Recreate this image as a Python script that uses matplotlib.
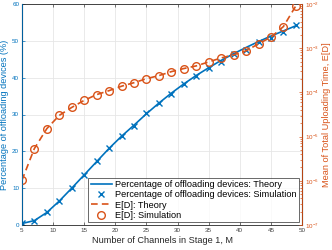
import numpy as np
import matplotlib
matplotlib.use("Agg")
import matplotlib.pyplot as plt

plt.rcParams['font.family'] = ['Liberation Sans', 'DejaVu Sans']
plt.rcParams['mathtext.fontset'] = 'custom'
plt.rcParams['mathtext.rm'] = 'Liberation Sans'

# number of channels M
m = [5, 7, 9, 11, 13, 15, 17, 19, 21, 23, 25, 27, 29, 31, 33, 35, 37, 39, 41, 43, 45, 47, 49]

# percentage of offloading devices (%)
pct_theory = [0.4, 1.2, 3.4, 6.5, 10.0, 13.6, 17.2, 20.8, 24.1, 27.1, 30.2, 33.1, 35.8, 38.3, 40.6, 42.7, 44.7, 46.5, 48.2, 49.8, 51.3, 52.7, 54.1]
pct_sim = [0.5, 1.1, 3.5, 6.5, 10.0, 13.5, 17.3, 20.8, 24.1, 27.0, 30.3, 33.2, 35.7, 38.4, 40.5, 42.7, 44.3, 46.5, 47.6, 49.7, 50.8, 52.4, 54.3]

# mean of total uploading time E[D] (log10)
ed_log = [-5.99, -5.27, -4.82, -4.52, -4.34, -4.18, -4.05, -3.96, -3.86, -3.78, -3.69, -3.62, -3.53, -3.46, -3.40, -3.31, -3.22, -3.15, -3.06, -2.90, -2.75, -2.51, -2.04]
ed = [10 ** v for v in ed_log]

blue = '#0072BD'
orange = '#D95319'

fig = plt.figure(figsize=(3.32, 2.5), dpi=100)
ax = fig.add_axes([0.066, 0.1, 0.844, 0.884])
ax2 = ax.twinx()

l1, = ax.plot(m, pct_theory, color=blue, lw=1.2, label='Percentage of offloading devices: Theory')
l2, = ax.plot(m, pct_sim, ls='none', marker='x', ms=4, mew=1.0, color=blue,
              label='Percentage of offloading devices: Simulation')
l3, = ax2.plot(m, ed, color=orange, ls=(0, (4, 2.5)), lw=1.2, label='E[D]: Theory')
l4, = ax2.plot(m, ed, ls='none', marker='o', ms=5.5, mfc='none', mew=1.0, color=orange,
               label='E[D]: Simulation')

ax.set_xlim(5, 50)
ax.set_ylim(0, 60)
ax.set_xticks(range(5, 51, 5))
ax.set_yticks(range(0, 61, 10))
ax2.set_yscale('log')
ax2.set_ylim(1e-7, 1e-2)

ax.grid(True, color='#e6e6e6', lw=0.6)
ax.set_axisbelow(True)

ax.tick_params(axis='x', direction='in', labelsize=4.5, colors='#404040', top=True, length=2.5, width=0.5, pad=2.5)
ax.tick_params(axis='y', direction='in', labelsize=4.5, colors=blue, length=2.5, width=0.5, pad=2)
ax2.tick_params(axis='y', which='both', direction='in', labelsize=4.5, colors=orange, width=0.5, pad=2)
ax2.tick_params(axis='y', which='major', length=2.5)
ax2.tick_params(axis='y', which='minor', length=1.5)

for s in ['top', 'bottom']:
    ax.spines[s].set_color('#262626')
    ax.spines[s].set_linewidth(0.6)
ax2.spines['left'].set_color(blue)
ax2.spines['right'].set_color(orange)
ax2.spines['top'].set_visible(False)
ax2.spines['bottom'].set_visible(False)
for s in ['left', 'right']:
    ax2.spines[s].set_linewidth(0.6)

ax.set_xlabel('Number of Channels in Stage 1, M', fontsize=6.6, color='#262626', labelpad=2)
ax.set_ylabel('Percentage of offloading devices (%)', fontsize=6.6, color=blue, labelpad=2)
ax2.set_ylabel('Mean of Total Uploading Time, E[D]', fontsize=6.6, color=orange, labelpad=2)

leg = ax2.legend(handles=[l1, l2, l3, l4], loc='lower right', fontsize=6.6, frameon=True,
                 fancybox=False, edgecolor='#262626', borderaxespad=0.3, handlelength=2.3,
                 borderpad=0.25, labelspacing=0.15, handletextpad=0.4)
leg.get_frame().set_linewidth(0.6)

fig.savefig('out.png', dpi=100)
